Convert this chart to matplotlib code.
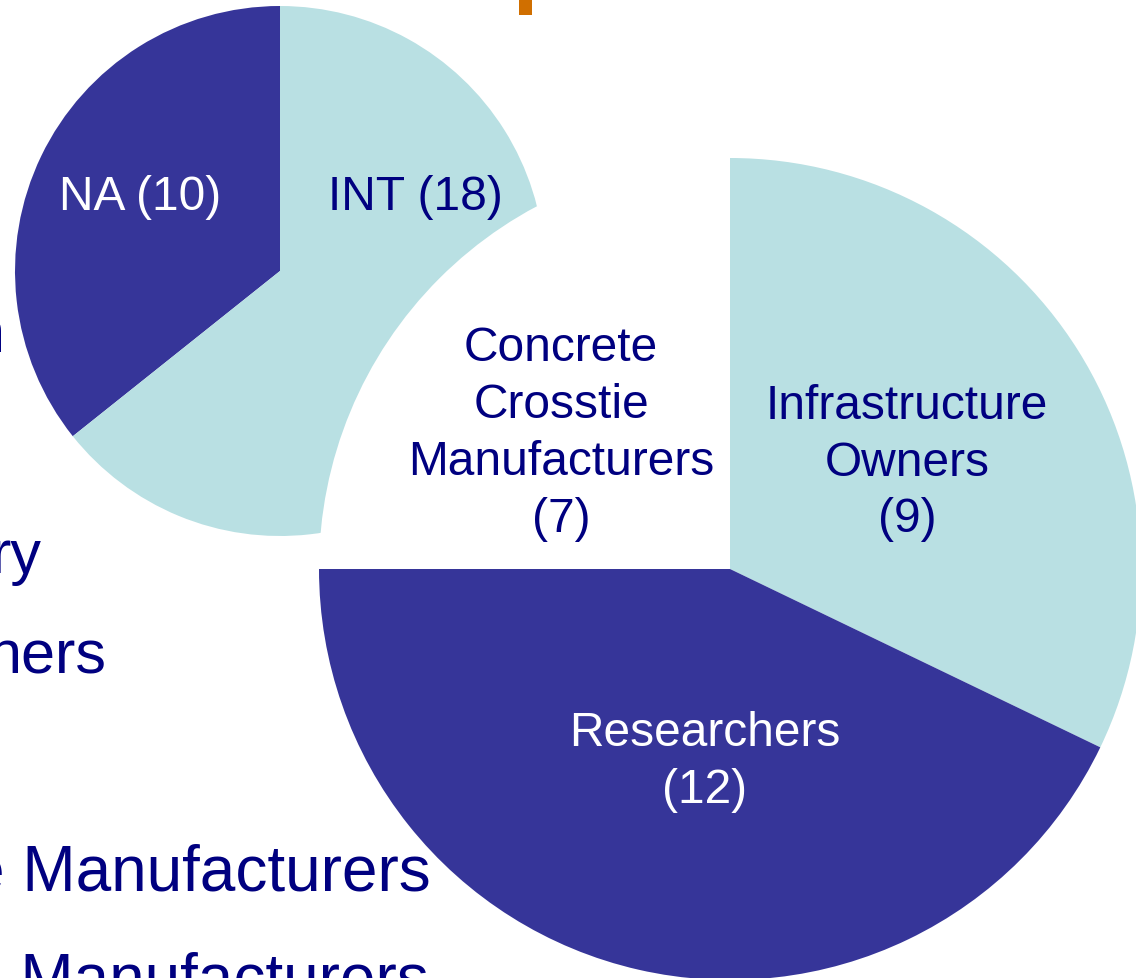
import matplotlib
matplotlib.use("Agg")
import matplotlib.pyplot as plt
from matplotlib.patches import Rectangle

plt.rcParams['font.family'] = ['Liberation Sans', 'DejaVu Sans']

# ---- data ----
region_names = ["NA", "INT"]
region_values = [10, 18]
group_names = ["Infrastructure\nOwners", "Researchers", "Concrete\nCrosstie\nManufacturers"]
group_values = [9, 12, 7]
bg_fragments = ["n", "ry", "ners", "e Manufacturers", "e Manufacturers"]

# ---- style ----
DARK = "#363599"
LIGHT = "#B9E0E3"
NAVY = "#000080"
ORANGE = "#D06F00"
W, H = 1136, 979

fig = plt.figure(figsize=(W / 100, H / 100), dpi=100)
ax = fig.add_axes([0, 0, 1, 1])

def Y(py):
    return H - py

# background slide text fragments (cut off at left edge, as in the reference)
bg_pos = [(5, 352, 44), (42, 573, 44), (107, 674, 44), (431, 891, 46), (429, 999, 46)]
for txt, (x, y, fs) in zip(bg_fragments, bg_pos):
    ax.text(x, Y(y), txt, ha="right", va="baseline", fontsize=fs, color=NAVY, zorder=0.5)

# orange mark at top
ax.add_patch(Rectangle((519, Y(16)), 13, 16, facecolor=ORANGE, edgecolor="none", zorder=0.5))

# small pie (regions)
ax.pie(region_values, colors=[DARK, LIGHT], startangle=90, counterclock=True,
       center=(280, Y(272)), radius=265,
       wedgeprops=dict(linewidth=0, zorder=1), frame=True)

# big pie (groups)
ax.pie(group_values, colors=[LIGHT, DARK, "white"], startangle=90, counterclock=False,
       center=(730, Y(570)), radius=411,
       wedgeprops=dict(linewidth=0, zorder=3), frame=True)

# labels
small_lbl_pos = [(140, 198, "white"), (415, 198, NAVY)]
for name, v, (x, y, c) in zip(region_names, region_values, small_lbl_pos):
    ax.text(x, Y(y), f"{name} ({v})", ha="center", va="center", fontsize=34.5, color=c, zorder=5)

big_lbl_pos = [(907, 463, NAVY), (705, 762, "white"), (561, 434, NAVY)]
for name, v, (x, y, c) in zip(group_names, group_values, big_lbl_pos):
    ax.text(x, Y(y), f"{name}\n({v})", ha="center", va="center", fontsize=34.5,
            color=c, zorder=5, multialignment="center", linespacing=1.34)

ax.set_xlim(0, W)
ax.set_ylim(0, H)
ax.set_aspect("equal")
ax.axis("off")

fig.savefig("out.png", dpi=100)
